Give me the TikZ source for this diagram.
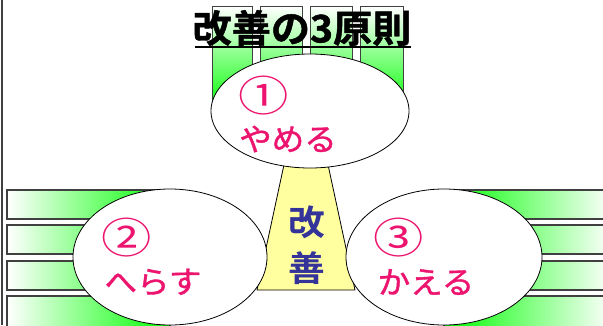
\documentclass[tikz,border=0pt]{standalone}
\usepackage{fontspec}
\usetikzlibrary{shapes.geometric}
\newfontfamily\jp{Noto Sans CJK JP}
\newfontfamily\jpm[FakeBold=1.2]{Noto Sans CJK JP}
\newfontfamily\jpb{Noto Sans CJK JP Bold}
\newfontfamily\jpbb[FakeBold=1.2]{Noto Sans CJK JP Bold}
\definecolor{pinkt}{RGB}{236,20,110}
\definecolor{navyt}{RGB}{51,51,153}
\definecolor{trapy}{RGB}{255,255,160}
\definecolor{edgeg}{RGB}{64,64,64}
\tikzset{
  hbarL/.style={draw=edgeg,line width=1.1pt,left color=white,right color=green},
  hbarR/.style={draw=edgeg,line width=1.1pt,left color=green,right color=white},
  vbar/.style={draw=edgeg,line width=0.9pt,top color=white,bottom color=green},
  bubble/.style={ellipse,draw=black,line width=0.8pt,fill=white,inner sep=0pt},
  wordtxt/.style={text=pinkt,inner sep=0pt,xscale=1.05,font=\jpm\fontsize{31}{31}\selectfont},
  circtxt/.style={text=pinkt,inner sep=0pt,xscale=1.2,font=\jp\fontsize{42}{42}\selectfont},
  kaitxt/.style={text=navyt,inner sep=0pt,xscale=1.05,font=\jpb\fontsize{35}{35}\selectfont},
}
\begin{document}
\begin{tikzpicture}[x=1pt,y=-1pt]
\useasboundingbox (0,0) rectangle (603,325);
% left border line
\draw[edgeg,line width=1.4pt] (2,0) -- (2,325);
% side bars
\foreach \ya/\yb in {190/219,225/254,261/290,296/335}{
  \draw[hbarL] (7,\ya) rectangle (170,\yb);
  \draw[hbarR] (444,\ya) rectangle (612,\yb);
}
% top bars
\foreach \xa/\xb in {212/252,260/302,310/352,360/403}{
  \draw[vbar] (\xa,6) rectangle (\xb,111);
}
% trapezoid
\draw[line width=0.8pt,fill=trapy] (285,160) -- (327,160) -- (355,290) -- (257,290) -- cycle;
% bubbles
\node[bubble,minimum width=198pt,minimum height=114pt] (top) at (310,111) {};
\node[bubble,minimum width=194pt,minimum height=136pt] (left) at (170,257) {};
\node[bubble,minimum width=196pt,minimum height=136pt] (right) at (444,257) {};
% title
\node[inner sep=0pt,xscale=1.03,font=\jpbb\fontsize{38}{38}\selectfont] (title) at (302,28) {改善の3原則};
\draw[line width=2pt] (195,47) -- (411,47);
% texts
\node[circtxt] (n1) at (264,96) {①};
\node[wordtxt] (t1) at (288,139) {やめる};
\node[circtxt] (n2) at (127,238) {②};
\node[wordtxt] (t2) at (153,282) {へらす};
\node[circtxt] (n3) at (399,238) {③};
\node[wordtxt] (t3) at (426,282) {かえる};
\node[kaitxt] (k1) at (307,222) {改};
\node[kaitxt] (k2) at (307,268) {善};
\end{tikzpicture}
\end{document}
